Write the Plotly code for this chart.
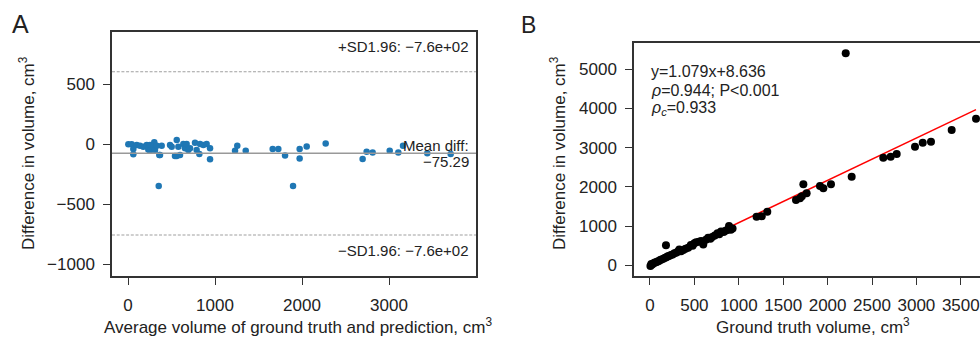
import plotly.graph_objects as go

# ---------------- data ----------------
# Panel A: Bland-Altman (average vs difference)
a_avg = [4, 42, 61, 61, 100, 138, 176, 215, 233, 253, 253, 291, 302, 310, 330, 360, 368, 387,
         483, 502, 540, 560, 560, 579, 598, 636, 655, 674, 693, 713, 770, 789, 820, 828, 866,
         904, 943, 943, 1230, 1256, 1353, 1663, 1728, 1805, 1973, 1973, 2054, 2272, 2697, 2743,
         2812, 3008, 3107, 3161, 3440, 3709, 353, 1897]
a_diff = [0, 0, -39, -83, -6, -11, -20, -6, -42, -6, -53, -20, 17, -47, -11, -89, -89, -11,
          -6, -20, -97, 36, -97, -20, -89, 3, -33, 3, -47, -33, 14, -47, -81, 3, -6,
          3, -125, -33, -53, -11, -53, -39, -39, -92, -39, -117, -17, 8, -122, -61,
          -67, -53, -67, -11, -75, -81, -347, -347]
mean_diff = -75.29
loa_upper = 605
loa_lower = -756
a_xticks = [0, 1000, 2000, 3000]
a_yticks = [-1000, -500, 0, 500]

# Panel B: ground truth vs prediction
b_gt = [5, 15, 25, 40, 55, 70, 85, 100, 115, 130, 150, 170, 185, 200, 215, 235, 255, 275, 295,
        315, 330, 350, 375, 400, 430, 460, 480, 500, 520, 550, 575, 600, 630, 655, 680, 700,
        730, 760, 780, 800, 830, 850, 870, 890, 910, 930, 180, 1200, 1258, 1321, 1644, 1689,
        1710, 1727, 1764, 1914, 1952, 2038, 2271, 2627, 2710, 2778, 2984, 3071, 3164, 3397,
        3671, 2204]
b_pred = [-15, 30, 20, 55, 70, 80, 95, 110, 135, 150, 165, 195, 205, 230, 240, 260, 275, 310, 320,
          350, 400, 360, 390, 420, 450, 520, 500, 560, 590, 600, 620, 530, 650, 700, 680, 720,
          760, 820, 790, 860, 850, 880, 900, 1000, 910, 940, 510, 1240, 1250, 1368, 1666, 1709,
          1760, 2066, 1837, 2023, 1964, 2066, 2260, 2745, 2770, 2839, 3026, 3128, 3153, 3452,
          3740, 5408]
fit_slope = 1.079
fit_intercept = 8.636
b_xticks = [0, 500, 1000, 1500, 2000, 2500, 3000, 3500]
b_yticks = [0, 1000, 2000, 3000, 4000, 5000]

# ---------------- figure ----------------
W, H = 980, 337
FONT = "Liberation Sans, Arial, sans-serif"
TXT = "#222222"
AX = "#333333"

def px(x):
    return x / W

def py(y):
    return 1 - y / H

fit_x = [min(b_gt), max(b_gt)]
fit_y = [fit_slope * v + fit_intercept for v in fit_x]

fig = go.Figure()
fig.add_trace(go.Scatter(x=a_avg, y=a_diff, mode="markers", xaxis="x", yaxis="y",
                         marker=dict(color="#1f77b4", size=6.5), showlegend=False))
fig.add_trace(go.Scatter(x=fit_x, y=fit_y, mode="lines", xaxis="x2", yaxis="y2",
                         line=dict(color="#ff0000", width=1.5), showlegend=False))
fig.add_trace(go.Scatter(x=b_gt, y=b_pred, mode="markers", xaxis="x2", yaxis="y2",
                         marker=dict(color="#000000", size=8), showlegend=False))

axis_common = dict(showgrid=False, zeroline=False, showline=True, linecolor=AX, linewidth=1.5,
                   ticks="outside", ticklen=7, tickwidth=1.3, tickcolor=AX,
                   tickfont=dict(family=FONT, size=17, color=TXT))

fig.update_layout(
    width=W, height=H,
    margin=dict(l=0, r=0, t=0, b=0),
    paper_bgcolor="white", plot_bgcolor="white",
    font=dict(family=FONT, color=TXT),
    xaxis=dict(domain=[px(112), px(476)], range=[-184, 4000], tickvals=a_xticks,
               anchor="y", mirror=True, ticklabelstandoff=6, **axis_common),
    yaxis=dict(domain=[py(276), py(32)], range=[-1097, 936], tickvals=a_yticks,
               anchor="x", mirror=True, ticklabelstandoff=5, **axis_common),
    xaxis2=dict(domain=[px(634), 1], range=[-180, 3716], tickvals=b_xticks,
                anchor="y2", mirror=True, ticklabelstandoff=6, **axis_common),
    yaxis2=dict(domain=[py(276), py(43)], range=[-273, 5671], tickvals=b_yticks,
                anchor="x2", mirror=False, ticklabelstandoff=5, **axis_common),
)

# reference lines in panel A
fig.add_shape(type="line", xref="x domain", yref="y", x0=0, x1=1, y0=mean_diff, y1=mean_diff,
              line=dict(color="#999999", width=1.5))
for v in (loa_upper, loa_lower):
    fig.add_shape(type="line", xref="x domain", yref="y", x0=0, x1=1, y0=v, y1=v,
                  line=dict(color="#a0a0a0", width=1.1, dash="3px,1.7px"))

def ann(text, x, y, size=15, xanchor="center", yanchor="middle", angle=0):
    fig.add_annotation(text=text, x=px(x), y=py(y), xref="paper", yref="paper",
                       xanchor=xanchor, yanchor=yanchor, showarrow=False, textangle=angle,
                       font=dict(family=FONT, size=size, color=TXT))

# panel letters
ann("A", 20, 24, size=25)
ann("B", 528, 25, size=23)

# panel A annotations
ann("+SD1.96: −7.6e+02", 471, 46, xanchor="right")
ann("Mean diff:", 471, 145, xanchor="right")
ann("−75.29", 471, 161.5, xanchor="right")
ann("−SD1.96: −7.6e+02", 471, 250.5, xanchor="right")

# panel B annotations
ann("y=1.079x+8.636", 649, 71, size=16, xanchor="left")
ann("<i>ρ</i>=0.944; P&lt;0.001", 649, 90, size=16, xanchor="left")
ann("<i>ρ<sub>c</sub></i>=0.933", 649, 109, size=16, xanchor="left")

# axis titles
ann("Average volume of ground truth and prediction, cm<sup>3</sup>", 298, 326, size=17)
ann("Difference in volume, cm<sup>3</sup>", 27, 153, size=17, angle=-90)
ann("Ground truth volume, cm<sup>3</sup>", 813, 326, size=17)
ann("Difference in volume, cm<sup>3</sup>", 558, 153, size=17, angle=-90)

fig.write_html("out.html", config={"displayModeBar": False},
               post_script="document.body.style.margin='0';document.body.style.overflow='hidden';")
